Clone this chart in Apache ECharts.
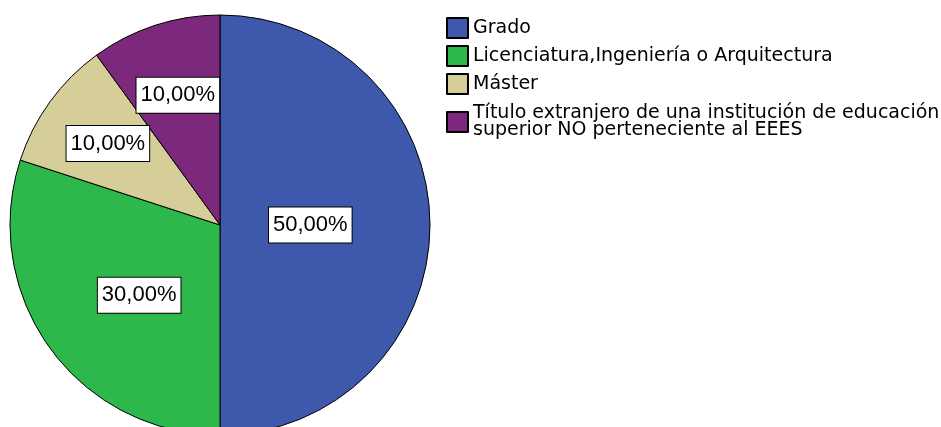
<!DOCTYPE html>
<html>
<head>
<meta charset="utf-8">
<script src="https://cdn.jsdelivr.net/npm/echarts@6/dist/echarts.min.js"></script>
<style>
  html, body { margin: 0; padding: 0; background: #ffffff; }
  #main { width: 941px; height: 427px; }
</style>
</head>
<body>
<div id="main"></div>
<script>
// datos del gráfico
var categories = [
  'Grado',
  'Licenciatura,Ingeniería o Arquitectura',
  'Máster',
  'Título extranjero de una institución de educación\nsuperior NO perteneciente al EEES'
];
var values = [50, 30, 10, 10];
var colors = ['#3E58AC', '#2EB84B', '#D5CE98', '#7C287D'];

var cx = 220, cy = 225, r = 210;
// distancia relativa de cada etiqueta al centro y pequeño giro (grados)
var labelFrac = [0.43, 0.51, 0.66, 0.65];
var labelTurn = [0, -5, 0, 0];

var total = values.reduce(function (a, b) { return a + b; }, 0);
var midAngles = [];
var acc = 0;
for (var i = 0; i < values.length; i++) {
  midAngles.push((acc + values[i] / 2) / total * Math.PI * 2);
  acc += values[i];
}

var legendText = { color: '#000', fontSize: 19, fontFamily: 'DejaVu Sans', lineHeight: 17 };

var chart = echarts.init(document.getElementById('main'));
var option = {
  backgroundColor: '#ffffff',
  animation: false,
  legend: [
    {
      orient: 'vertical',
      left: 441,
      top: 12,
      itemWidth: 21,
      itemHeight: 20,
      itemGap: 6,
      icon: 'rect',
      selectedMode: false,
      data: categories.slice(0, 3),
      textStyle: legendText
    },
    {
      orient: 'vertical',
      left: 441,
      top: 99,
      itemWidth: 21,
      itemHeight: 20,
      icon: 'rect',
      selectedMode: false,
      data: categories.slice(3),
      textStyle: legendText
    }
  ],
  series: [
    {
      type: 'pie',
      center: [cx, cy],
      radius: r,
      startAngle: 90,
      clockwise: true,
      avoidLabelOverlap: false,
      itemStyle: { borderColor: '#000', borderWidth: 1 },
      emphasis: { disabled: true },
      label: {
        show: true,
        position: 'inside',
        formatter: function (p) {
          return (p.value / total * 100).toFixed(2).replace('.', ',') + '%';
        },
        color: '#000',
        fontSize: 22,
        fontFamily: 'Liberation Sans, Arial',
        backgroundColor: '#fff',
        borderColor: '#000',
        borderWidth: 1,
        padding: [7, 4, 6, 4]
      },
      labelLine: { show: false },
      labelLayout: function (p) {
        var a = midAngles[p.dataIndex] + labelTurn[p.dataIndex] * Math.PI / 180;
        var d = labelFrac[p.dataIndex] * r;
        return { x: cx + d * Math.sin(a), y: cy - d * Math.cos(a) };
      },
      data: categories.map(function (c, i) {
        return { name: c, value: values[i], itemStyle: { color: colors[i] } };
      })
    }
  ]
};
chart.setOption(option);
</script>
</body>
</html>
